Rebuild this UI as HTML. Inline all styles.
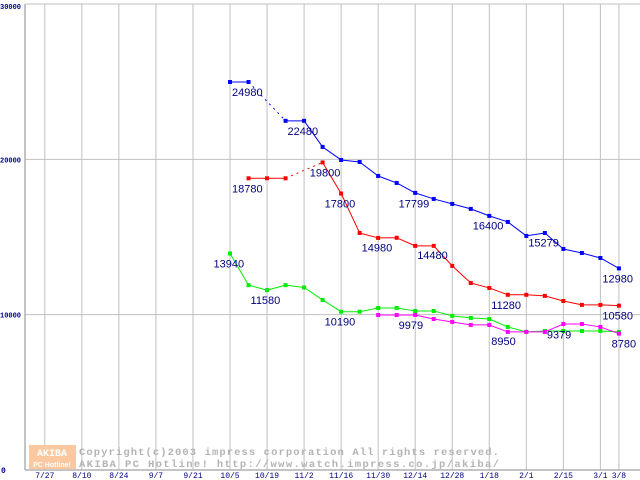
<!DOCTYPE html>
<html><head><meta charset="utf-8"><style>
body{margin:0;background:#fff;}
svg{display:block;font-family:"Liberation Sans",sans-serif;}
</style></head><body>
<svg id="chart" width="640" height="480" viewBox="0 0 640 480" xmlns="http://www.w3.org/2000/svg">
<rect width="640" height="480" fill="#fff"/>
<g id="grid"></g>
<g id="wm">
  <rect x="29" y="445" width="47" height="24" fill="#fcc8a0"/>
  <text x="52" y="456" font-size="10" font-weight="bold" fill="#fff" text-anchor="middle" font-family="Liberation Mono, monospace">AKIBA</text>
  <text x="52" y="467" font-size="7" font-weight="bold" fill="#fff" text-anchor="middle">PC Hotline!</text>
  <text x="79" y="455" font-size="10.5" font-weight="bold" fill="#b4b4b4" font-family="Liberation Mono, monospace" textLength="420">Copyright(c)2003 impress corporation All rights reserved.</text>
  <text x="79" y="467" font-size="10.5" font-weight="bold" fill="#b4b4b4" font-family="Liberation Mono, monospace" textLength="420">AKIBA PC Hotline!  http://www.watch.impress.co.jp/akiba/</text>
</g>
<g id="series"></g>
<g id="labels"></g>
</svg>
<script>
const dateLabels=["7/27","8/10","8/24","9/7","9/21","10/5","10/19","11/2","11/16","11/30","12/14","12/28","1/18","2/1","2/15","3/1","3/8"];
const dateSlots=[-10,-8,-6,-4,-2,0,2,4,6,8,10,12,14,16,18,20,21];
const yTicks=[0,10000,20000,30000];
const blue=[24980,24980,null,22480,22480,20800,19960,19830,18930,18480,17840,17450,17130,16810,16360,15970,15070,15260,14230,13970,13650,12980];
const red=[null,18780,18780,18780,null,19800,17800,15260,14940,14950,14430,14430,13140,12040,11720,11280,11280,11210,10880,10630,10630,10580];
const green=[13940,11900,11580,11900,11750,10950,10190,10190,10430,10430,10240,10240,9920,9790,9720,9210,8890,8950,8950,8950,8950,8890];
const magenta=[null,null,null,null,null,null,null,null,9979,9979,9979,9720,9530,9340,9340,8890,8890,8890,9400,9400,9210,8780];
const priceLabels=[["24980",0,24980],["22480",3,22480],["18780",0,18780],["19800",4.2,19800],["17800",5,17800],["17799",9,17800],["14980",7,14980],["14480",10,14480],["16400",13,16400],["15279",16,15279],["12980",20,12980],["11280",14,11280],["10580",20,10580],["13940",-1,13940],["11580",1,11580],["10190",5,10190],["9979",9,9979],["8950",14,8950],["9379",17,9379],["8780",20.5,8780]];
const NS="http://www.w3.org/2000/svg";
function X(s){return 230+s*18.52;}
function Y(v){return 470-v*0.015533;}
function mk(tag,attrs,parent){const e=document.createElementNS(NS,tag);for(const k in attrs)e.setAttribute(k,attrs[k]);parent.appendChild(e);return e;}
const grid=document.getElementById('grid');
yTicks.forEach(t=>{
  if(t>0){const l=mk('line',{x1:25,x2:640,y1:Y(t),y2:Y(t),stroke:'#c0c0c0','stroke-width':1},grid);
  
  }
  const tx=mk('text',{x:t===0?1:0,y:Y(t)+(t===30000?5:3),'font-size':t===0?8:7,'font-weight':'bold',fill:'#000080','font-family':'Liberation Mono, monospace'},grid);
  tx.textContent=String(t);
  
  
});
dateSlots.forEach((s,i)=>{
  const l=mk('line',{x1:X(s),x2:X(s),y1:4,y2:470,stroke:'#c0c0c0','stroke-width':1},grid);
  
  
  const t=mk('text',{x:X(s),y:478,'font-size':8,fill:'#000080','text-anchor':'middle','font-family':'Liberation Mono, monospace'},grid);
  t.textContent=dateLabels[i];
  
  
});
const ax=mk('line',{x1:25,x2:25,y1:4,y2:470,stroke:'#b0b0b0','stroke-width':1.5},grid);


const bx=mk('line',{x1:25,x2:640,y1:470,y2:470,stroke:'#b0b0b0','stroke-width':1.5},grid);


const sg=document.getElementById('series');
function drawSeries(vals,color,name){
  const g=mk('g',{},sg);
  
  
  let prev=-1;
  vals.forEach((v,i)=>{
    if(v===null)return;
    if(prev>=0){
      const gap=i-prev>1;
      const l=mk('line',{x1:X(prev),y1:Y(vals[prev]),x2:X(i),y2:Y(v),stroke:color,'stroke-width':1},g);
      if(gap)l.setAttribute('stroke-dasharray','2,4');
      
      
    }
    prev=i;
  });
  vals.forEach((v,i)=>{
    if(v===null)return;
    const r=mk('rect',{x:X(i)-2,y:Y(v)-2,width:4,height:4,fill:color},g);
    
    
  });
}
drawSeries(green,'#00ee00','green-series');
drawSeries(magenta,'#ff00ff','magenta-series');
drawSeries(red,'#ff0000','red-series');
drawSeries(blue,'#0000ff','blue-series');
const lg=document.getElementById('labels');
priceLabels.forEach(p=>{
  const t=mk('text',{x:X(p[1])+2,y:Y(p[2])+14,'font-size':11,fill:'#000080'},lg);
  t.textContent=p[0];
  
  
});
</script>
</body></html>
